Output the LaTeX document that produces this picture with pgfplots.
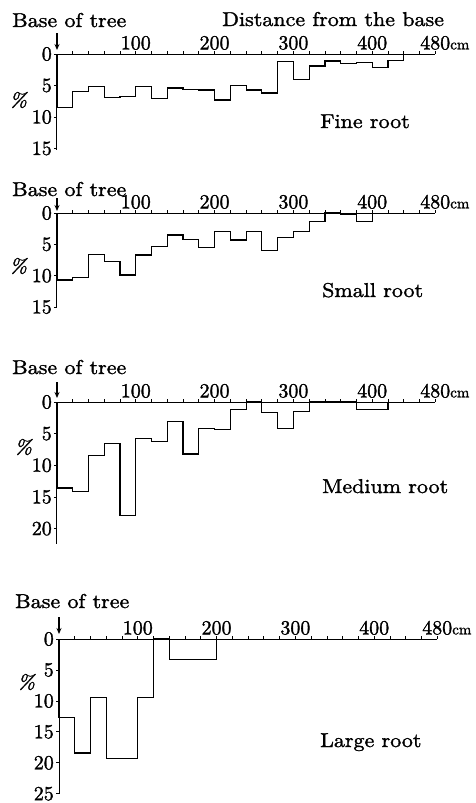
\documentclass[border=0pt]{standalone}
\usepackage{fontspec}
\setmainfont{lmroman10-regular.otf}[ItalicFont=lmroman10-italic.otf, BoldFont=lmroman10-bold.otf]
\newfontfamily\labfont{lmroman10-regular.otf}[ItalicFont=lmroman10-italic.otf, FakeStretch=1.1, FakeBold=1.5]
\newfontfamily\tickfont{lmroman10-regular.otf}[FakeStretch=1.0, FakeBold=1.5]
\usepackage{pgfplots}
\pgfplotsset{compat=1.18}
\usetikzlibrary{arrows.meta}
\newcommand{\lab}{\labfont\fontsize{20}{22}\selectfont}
\newcommand{\ticklab}{\tickfont\fontsize{20}{20}\selectfont}
\tikzset{arr/.style={-{Stealth[length=6pt,width=5pt]}, line width=1.1pt}}
\pgfplotsset{
  rootax/.style={
    x=0.788pt, y=6.3pt, y dir=reverse,
    xmin=0, xmax=480, ymin=0,
    axis x line=top, axis y line=left,
    axis line style={-, line width=1pt},
    xtick={100,200,300,400,480},
    xticklabels={100,200,300,400,480\rlap{\fontsize{15}{15}\selectfont cm}},
    minor xtick={20,40,...,460},
    tick align=outside,
    major tick length=3pt, minor tick length=3pt,
    tick style={black, line width=0.8pt},
    /pgf/number format/assume math mode=true,
    tick label style={font=\ticklab},
    xticklabel style={inner sep=1pt},
    yticklabel style={inner sep=2pt},
    anchor=origin,
    clip=false,
  },
  rootline/.style={const plot, black, line width=1.2pt, mark=none},
}
\begin{document}
\begin{tikzpicture}
\path[use as bounding box] (0pt,0pt) rectangle (475pt,-803pt);

% ---------- Fine root ----------
\begin{axis}[rootax, at={(57pt,-54pt)}, ymax=15.2, ytick={0,5,10,15}]
\addplot[rootline] coordinates {(0,0)(0,8.5)(20,6.0)(40,5.2)(60,6.9)(80,6.7)(100,5.2)(120,7.0)(140,5.4)(160,5.6)(180,5.7)(200,7.3)(220,5.0)(240,5.7)(260,6.2)(280,1.2)(300,4.1)(320,1.9)(340,1.1)(360,1.5)(380,1.3)(400,2.1)(420,1.0)(440,0)};
\end{axis}
\node[anchor=base west, inner sep=0] at (12pt,-27pt) {\lab Base of tree};
\node[anchor=base west, inner sep=0] at (222pt,-26pt) {\lab Distance from the base};
\node[anchor=base west, inner sep=0] at (320pt,-128pt) {\lab Fine root};
\node[inner sep=0] at (18pt,-100pt) {\lab\itshape\%};
\draw[arr] (57pt,-33pt) -- (57pt,-50pt);

% ---------- Small root ----------
\begin{axis}[rootax, at={(57pt,-213pt)}, y=6.27pt, ymax=15.1, ytick={0,5,10,15}]
\addplot[rootline] coordinates {(0,0)(0,10.7)(20,10.3)(40,6.6)(60,7.7)(80,9.9)(100,6.7)(120,5.4)(140,3.5)(160,4.2)(180,5.5)(200,3.0)(220,4.3)(240,2.9)(260,6.0)(280,3.9)(300,2.9)(320,1.3)(340,0)(360,0.3)(380,1.4)(400,0)};
\end{axis}
\node[anchor=base west, inner sep=0] at (12pt,-196pt) {\lab Base of tree};
\node[anchor=base west, inner sep=0] at (322pt,-297pt) {\lab Small root};
\node[inner sep=0] at (18pt,-266pt) {\lab\itshape\%};
\draw[arr] (57pt,-198pt) -- (57pt,-211pt);

% ---------- Medium root ----------
\begin{axis}[rootax, at={(57pt,-402pt)}, y=6.33pt, ymax=22.5, ytick={0,5,10,15,20}]
\addplot[rootline] coordinates {(0,0)(0,13.6)(20,14.1)(40,8.5)(60,6.5)(80,17.9)(100,5.8)(120,6.2)(140,3.1)(160,8.2)(180,4.2)(200,4.3)(220,1.2)(240,0)(260,1.6)(280,4.2)(300,1.5)(320,0)(380,1.2)(420,0)};
\end{axis}
\node[anchor=base west, inner sep=0] at (12pt,-374pt) {\lab Base of tree};
\node[anchor=base west, inner sep=0] at (322pt,-493pt) {\lab Medium root};
\node[inner sep=0] at (23pt,-447pt) {\lab\itshape\%};
\draw[arr] (57pt,-382pt) -- (57pt,-398pt);

% ---------- Large root ----------
\begin{axis}[rootax, at={(59pt,-639pt)}, y=6.19pt, ymax=25.1, ytick={0,5,10,15,20,25}]
\addplot[rootline] coordinates {(0,0)(0,12.7)(20,18.4)(40,9.4)(60,19.3)(100,9.4)(120,0)(140,3.3)(200,0)};
\end{axis}
\node[anchor=base west, inner sep=0] at (15pt,-608pt) {\lab Base of tree};
\node[anchor=base west, inner sep=0] at (320pt,-747pt) {\lab Large root};
\node[inner sep=0] at (26pt,-682pt) {\lab\itshape\%};
\draw[arr] (59pt,-617pt) -- (59pt,-634pt);
\end{tikzpicture}
\end{document}
